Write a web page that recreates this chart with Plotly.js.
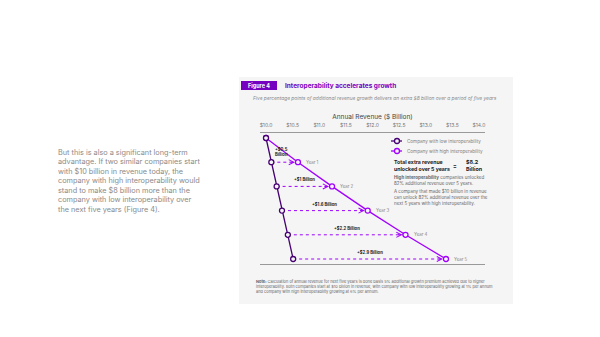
<!DOCTYPE html>
<html>
<head>
<meta charset="utf-8">
<script src="https://cdn.plot.ly/plotly-3.0.1.min.js"></script>
<style>html,body{margin:0;padding:0;background:#fff;}#chart{width:600px;height:337px;}</style>
</head>
<body>
<div id="chart"></div>
<script>
// ---- data ----
const years = [0, 1, 2, 3, 4, 5];
const lowRevenue = [10.0, 10.1, 10.2, 10.3, 10.41, 10.51];
const highRevenue = [10.0, 10.6, 11.24, 11.91, 12.62, 13.38];
const gainLabels = ['+$0.5<br>Billion', '+$1 Billion', '+$1.6 Billion', '+$2.2 Billion', '+$2.9 Billion'];
const yearLabels = ['Year 1', 'Year 2', 'Year 3', 'Year 4', 'Year 5'];
const tickValues = [10.0, 10.5, 11.0, 11.5, 12.0, 12.5, 13.0, 13.5, 14.0];
const tickLabels = ['$10.0', '$10.5', '$11.0', '$11.5', '$12.0', '$12.5', '$13.0', '$13.5', '$14.0'];
const seriesNames = ['Company with low interoperability', 'Company with high interoperability'];

// ---- style ----
const LOW = '#460073', HIGH = '#a100ff', PURPLE = '#7500c0', PANEL = '#f5f5f5';
const FONT = 'Inter, Roboto, "DejaVu Sans", sans-serif';
const W = 600, H = 337, L = 260, R = 485, T = 133, B = 264;
const px = x => (x - L) / (R - L);
const py = y => (B - y) / (B - T);

// dashed connectors
const dx = [], dy = [];
for (let i = 1; i < years.length; i++) {
  dx.push(lowRevenue[i], highRevenue[i], null);
  dy.push(years[i], years[i], null);
}

const traces = [
  {x: dx, y: dy, mode: 'lines', line: {color: HIGH, width: 1, dash: 'dot'}, hoverinfo: 'skip', showlegend: false},
  {x: highRevenue, y: years, mode: 'lines+markers', name: seriesNames[1],
   line: {color: HIGH, width: 1.3}, marker: {symbol: 'circle', size: 5, color: PANEL, line: {color: HIGH, width: 1.3}}, showlegend: false},
  {x: lowRevenue, y: years, mode: 'lines+markers', name: seriesNames[0],
   line: {color: LOW, width: 1.3}, marker: {symbol: 'circle', size: 5, color: PANEL, line: {color: LOW, width: 1.3}}, showlegend: false}
];

const ann = [];
const txt = (x, y, text, size, color, opts) => Object.assign({
  xref: 'paper', yref: 'paper', x: px(x), y: py(y), text: text, showarrow: false,
  xanchor: 'left', yanchor: 'middle', align: 'left', font: {family: FONT, size: size, color: color}
}, opts || {});

// titles
ann.push(txt(259, 85.5, '<b>Figure 4</b>', 5.5, '#ffffff', {xanchor: 'center', align: 'center'}));
ann.push(txt(283, 85.5, '<b>Interoperability accelerates growth</b>', 6.5, PURPLE));
ann.push(txt(251, 98, '<i>Five percentage points of additional revenue growth delivers an extra $8 billion over a period of five years</i>', 4.85, '#8a8a8a'));

// left paragraph
ann.push(txt(56, 181, 'But this is also a significant long-term<br>advantage. If two similar companies start<br>with $10 billion in revenue today, the<br>company with high interoperability would<br>stand to make $8 billion more than the<br>company with low interoperability over<br>the next five years (Figure 4).', 7.3, '#8a8a8a'));

// legend (manual)
const legendRows = [141, 151];
const legendColors = [LOW, HIGH];
const shapes = [
  {type: 'rect', xref: 'paper', yref: 'paper', x0: px(239), x1: px(513), y0: py(304), y1: py(77), fillcolor: PANEL, line: {width: 0}, layer: 'below'},
  {type: 'rect', xref: 'paper', yref: 'paper', x0: px(241), x1: px(277), y0: py(90), y1: py(81), fillcolor: PURPLE, line: {width: 0}, layer: 'below'}
];
legendRows.forEach((yy, i) => {
  shapes.push({type: 'line', xref: 'paper', yref: 'paper', x0: px(391), x1: px(402), y0: py(yy), y1: py(yy), line: {color: legendColors[i], width: 1.3}});
  shapes.push({type: 'circle', xref: 'paper', yref: 'paper', x0: px(394.5), x1: px(399.5), y0: py(yy + 2.5), y1: py(yy - 2.5), fillcolor: PANEL, line: {color: legendColors[i], width: 1.3}});
  ann.push(txt(405, yy, seriesNames[i], 4.6, '#808080'));
});

// right summary text
ann.push(txt(392, 165.5, '<b>Total extra revenue<br>unlocked over 5 years</b>', 5.2, '#222'));
ann.push(txt(455, 165.5, '<b>=</b>', 5.5, '#222', {xanchor: 'center'}));
ann.push(txt(464, 165.5, '<b>$8.2<br>Billion</b>', 5.4, '#222'));
ann.push(txt(392, 180.5, '<b>High interoperability</b> companies unlocked<br>82% additional revenue over 5 years.', 4.5, '#666'));
ann.push(txt(392, 197, 'A company that made $10 billion in revenue<br>can unlock 82% additional revenue over the<br>next 5 years with high interoperability.', 4.5, '#666'));

// note
ann.push(txt(254, 286, '<b>Note:</b> Calculation of annual revenue for next five years is done basis 5% additional growth premium achieved due to higher<br>interoperability. Both companies start at $10 billion in revenue, with company with low interoperability growing at 1% per annum<br>and company with high interoperability growing at 6% per annum.', 3.95, '#666'));

// data annotations
for (let i = 1; i < years.length; i++) {
  // arrow head
  ann.push({x: highRevenue[i], y: years[i], xref: 'x', yref: 'y', ax: -9, ay: 0, text: '', showarrow: true,
            arrowhead: 5, arrowsize: 1, arrowwidth: 1, arrowcolor: HIGH, standoff: 3});
  // year label
  ann.push({x: highRevenue[i], y: years[i], xref: 'x', yref: 'y', text: yearLabels[i - 1], showarrow: false,
            xanchor: 'left', xshift: 6, font: {family: FONT, size: 4.4, color: '#888'}});
  // gain label
  if (i === 1) {
    ann.push({x: lowRevenue[i], y: years[i], xref: 'x', yref: 'y', text: '<b>' + gainLabels[i - 1] + '</b>', showarrow: false,
              xanchor: 'left', yanchor: 'bottom', align: 'left', xshift: 2, yshift: 3, font: {family: FONT, size: 4.2, color: '#222'}});
  } else {
    ann.push({x: (lowRevenue[i] + highRevenue[i]) / 2, y: years[i], xref: 'x', yref: 'y', text: '<b>' + gainLabels[i - 1] + '</b>', showarrow: false,
              xanchor: 'center', yanchor: 'bottom', yshift: 2, font: {family: FONT, size: 4.2, color: '#222'}});
  }
}

const layout = {
  width: W, height: H,
  margin: {l: L, r: W - R, t: T, b: H - B, pad: 0},
  paper_bgcolor: '#ffffff', plot_bgcolor: 'rgba(0,0,0,0)',
  showlegend: false,
  font: {family: FONT},
  xaxis: {
    side: 'top', range: [10 - 6 / 53.2, 14 + 6 / 53.2], tickvals: tickValues, ticktext: tickLabels,
    ticks: '', showgrid: false, zeroline: false, showline: true, mirror: true, linecolor: '#999', linewidth: 1,
    tickfont: {family: FONT, size: 5, color: '#777'}, ticklabelstandoff: 3,
    title: {text: 'Annual Revenue ($ Billion)', font: {family: FONT, size: 6.5, color: '#444'}, standoff: 1},
    fixedrange: true
  },
  yaxis: {range: [5 + 5 / 24.2, -5 / 24.2], visible: false, showgrid: false, zeroline: false, fixedrange: true},
  shapes: shapes,
  annotations: ann
};

Plotly.newPlot('chart', traces, layout, {displayModeBar: false, staticPlot: true});
</script>
</body>
</html>
